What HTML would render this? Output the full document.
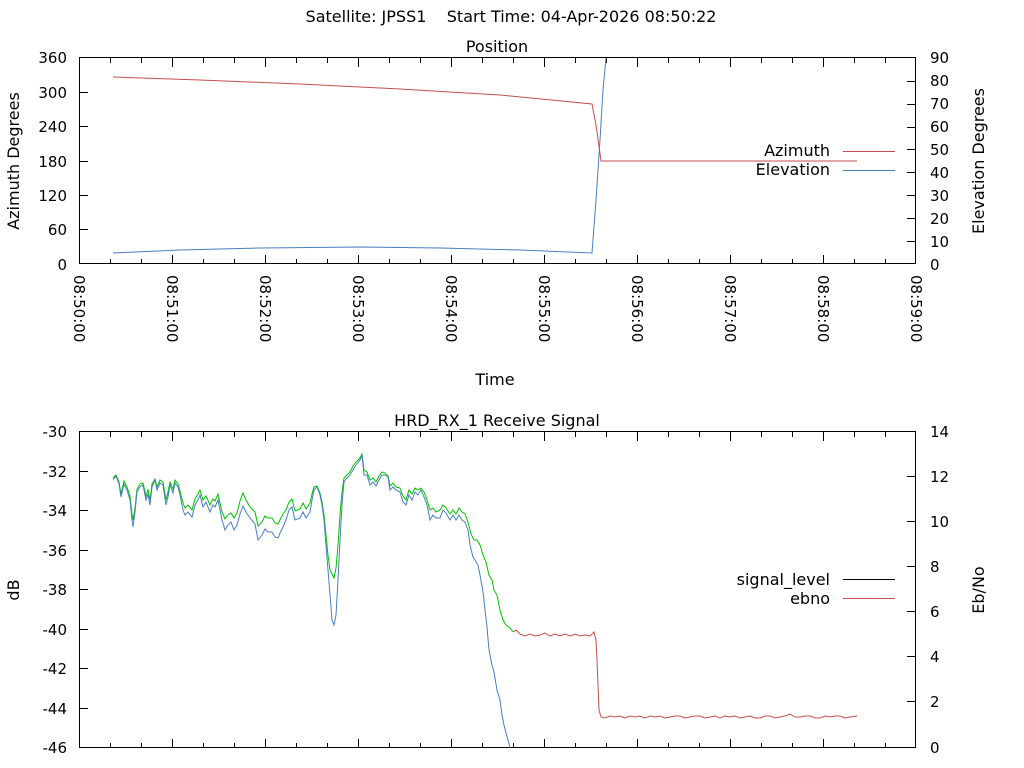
<!DOCTYPE html>
<html><head><meta charset="utf-8"><style>
html,body{margin:0;padding:0;background:#fff;}
svg{display:block;font-family:"DejaVu Sans","Liberation Sans",sans-serif;font-size:16px;fill:#000;}
.n{font-size:15px;}
</style></head><body>
<svg width="1024" height="768" viewBox="0 0 1024 768" xmlns="http://www.w3.org/2000/svg">
<text x="511" y="22" text-anchor="middle" xml:space="preserve">Satellite: JPSS1    Start Time: 04-Apr-2026 08:50:22</text>
<text x="497" y="52" text-anchor="middle">Position</text>
<rect x="79.5" y="57.5" width="836" height="206" fill="none" stroke="#000"/>
<rect x="79.5" y="431.5" width="836" height="316" fill="none" stroke="#000"/>
<g stroke="#000" stroke-width="1">
<path d="M80 92.5h8M80 126.5h8M80 161.5h8M80 195.5h8M80 229.5h8"/>
<path d="M915 81.5h-8M915 104.5h-8M915 127.5h-8M915 149.5h-8M915 172.5h-8M915 195.5h-8M915 218.5h-8M915 241.5h-8"/>
<path d="M172.5 264v-9M265.5 264v-9M358.5 264v-9M451.5 264v-9M544.5 264v-9M637.5 264v-9M730.5 264v-9M823.5 264v-9"/>
<path d="M172.5 58v9M265.5 58v9M358.5 58v9M451.5 58v9M544.5 58v9M637.5 58v9M730.5 58v9M823.5 58v9"/>
<path d="M110.5 264v-5M141.5 264v-5M203.5 264v-5M234.5 264v-5M296.5 264v-5M327.5 264v-5M389.5 264v-5M420.5 264v-5M482.5 264v-5M513.5 264v-5M575.5 264v-5M606.5 264v-5M668.5 264v-5M699.5 264v-5M761.5 264v-5M792.5 264v-5M854.5 264v-5M885.5 264v-5"/>
<path d="M110.5 58v5M141.5 58v5M203.5 58v5M234.5 58v5M296.5 58v5M327.5 58v5M389.5 58v5M420.5 58v5M482.5 58v5M513.5 58v5M575.5 58v5M606.5 58v5M668.5 58v5M699.5 58v5M761.5 58v5M792.5 58v5M854.5 58v5M885.5 58v5"/>
<path d="M80 471.5h8M80 510.5h8M80 550.5h8M80 589.5h8M80 629.5h8M80 668.5h8M80 708.5h8"/>
<path d="M915 476.5h-8M915 521.5h-8M915 566.5h-8M915 611.5h-8M915 656.5h-8M915 701.5h-8"/>
<path d="M172.5 748v-9M265.5 748v-9M358.5 748v-9M451.5 748v-9M544.5 748v-9M637.5 748v-9M730.5 748v-9M823.5 748v-9"/>
<path d="M110.5 748v-5M141.5 748v-5M203.5 748v-5M234.5 748v-5M296.5 748v-5M327.5 748v-5M389.5 748v-5M420.5 748v-5M482.5 748v-5M513.5 748v-5M575.5 748v-5M606.5 748v-5M668.5 748v-5M699.5 748v-5M761.5 748v-5M792.5 748v-5M854.5 748v-5M885.5 748v-5"/>
<path d="M172.5 432v9M265.5 432v9M358.5 432v9M451.5 432v9M544.5 432v9M637.5 432v9M730.5 432v9M823.5 432v9"/>
<path d="M110.5 432v5M141.5 432v5M203.5 432v5M234.5 432v5M296.5 432v5M327.5 432v5M389.5 432v5M420.5 432v5M482.5 432v5M513.5 432v5M575.5 432v5M606.5 432v5M668.5 432v5M699.5 432v5M761.5 432v5M792.5 432v5M854.5 432v5M885.5 432v5"/>
</g>
<g text-anchor="end" class="n">
<text x="67" y="63">360</text><text x="67" y="98">300</text><text x="67" y="132">240</text><text x="67" y="167">180</text><text x="67" y="201">120</text><text x="67" y="235">60</text><text x="67" y="270">0</text>
<text x="67" y="437">-30</text><text x="67" y="477">-32</text><text x="67" y="516">-34</text><text x="67" y="556">-36</text><text x="67" y="595">-38</text><text x="67" y="635">-40</text><text x="67" y="674">-42</text><text x="67" y="714">-44</text><text x="67" y="753">-46</text>
</g>
<g text-anchor="start" class="n">
<text x="930" y="63">90</text><text x="930" y="86">80</text><text x="930" y="109">70</text><text x="930" y="132">60</text><text x="930" y="155">50</text><text x="930" y="178">40</text><text x="930" y="201">30</text><text x="930" y="224">20</text><text x="930" y="247">10</text><text x="930" y="270">0</text>
<text x="930" y="437">14</text><text x="930" y="482">12</text><text x="930" y="527">10</text><text x="930" y="572">8</text><text x="930" y="617">6</text><text x="930" y="662">4</text><text x="930" y="707">2</text><text x="930" y="753">0</text>
</g>
<g class="n">
<text transform="translate(74,275) rotate(90)">08:50:00</text>
<text transform="translate(167,275) rotate(90)">08:51:00</text>
<text transform="translate(260,275) rotate(90)">08:52:00</text>
<text transform="translate(353,275) rotate(90)">08:53:00</text>
<text transform="translate(446,275) rotate(90)">08:54:00</text>
<text transform="translate(539,275) rotate(90)">08:55:00</text>
<text transform="translate(632,275) rotate(90)">08:56:00</text>
<text transform="translate(725,275) rotate(90)">08:57:00</text>
<text transform="translate(818,275) rotate(90)">08:58:00</text>
<text transform="translate(911,275) rotate(90)">08:59:00</text>
</g>
<text x="495" y="385" text-anchor="middle">Time</text>
<text transform="translate(19,161) rotate(-90)" text-anchor="middle">Azimuth Degrees</text>
<text transform="translate(984,161) rotate(-90)" text-anchor="middle">Elevation Degrees</text>
<text transform="translate(19,590) rotate(-90)" text-anchor="middle">dB</text>
<text transform="translate(984,590) rotate(-90)" text-anchor="middle">Eb/No</text>
<text x="497" y="426" text-anchor="middle">HRD_RX_1 Receive Signal</text>
<text x="830" y="156" text-anchor="end">Azimuth</text>
<line x1="843" y1="151.5" x2="895" y2="151.5" stroke="#c0504d"/>
<text x="830" y="175" text-anchor="end">Elevation</text>
<line x1="843" y1="170.5" x2="895" y2="170.5" stroke="#4a7ebb"/>
<text x="830" y="585" text-anchor="end">signal_level</text>
<line x1="843" y1="579.5" x2="895" y2="579.5" stroke="#000"/>
<text x="830" y="604" text-anchor="end">ebno</text>
<line x1="843" y1="598.5" x2="895" y2="598.5" stroke="#c0504d"/>
<polyline fill="none" stroke="#c0504d" stroke-width="1" points="113,77 200,80 300,84 400,89 500,95 592,104 596,125 601,161 857,161"/>
<polyline fill="none" stroke="#4a7ebb" stroke-width="1" points="113,253 180,250 260,248 360,247 440,248 520,250 592,253 596,200 600,140 603,90 606,58"/>
<polyline fill="none" stroke="#00c000" stroke-width="1" points="113,478 116,475 119,482 121,494 124,481 127,487 130,496 132,514 133,520 135,508 137,489 140,484 143,483 146,496 148,490 150,500 152,484 155,479 157,487 160,480 163,482 166,500 168,492 170,482 173,489 175,480 178,484 180,491 183,503 185,508 188,505 192,510 195,499 198,494 200,490 203,500 206,496 210,505 213,499 215,501 218,494 220,503 222,512 225,519 228,515 231,513 234,518 237,513 240,501 243,493 246,500 250,507 255,512 258,526 262,522 265,516 268,518 272,518 275,523 278,524 280,520 283,514 286,510 289,502 292,499 295,511 300,509 303,503 306,509 310,503 312,494 314,487 317,486 320,493 322,502 324,515 326,535 328,555 330,570 332,574 334,578 336,568 338,545 340,515 342,492 344,478 347,475 350,472 353,466 356,462 360,458 362,454 364,470 367,472 370,480 373,478 376,482 379,476 382,472 385,473 388,476 390,486 393,483 396,487 400,488 403,496 406,500 409,490 412,494 415,488 418,490 421,488 424,492 427,500 430,510 433,508 436,512 440,510 443,505 446,508 450,514 453,510 456,514 459,508 462,512 465,514 468,522 471,534 474,540 477,540 480,545 483,555 486,562 489,575 492,580 494,590 497,595 500,610 503,620 506,625 510,628 513,632"/>
<polyline fill="none" stroke="#4a7ebb" stroke-width="1" points="113,480 116,476 119,484 121,497 124,484 127,490 130,500 132,520 133,527 135,512 137,492 140,487 143,485 146,500 148,494 150,505 152,487 155,480 157,490 160,483 163,485 166,505 168,497 170,485 173,493 175,483 178,487 180,495 183,510 185,515 188,512 192,517 195,505 198,500 200,495 203,507 206,502 210,512 213,505 215,507 218,500 220,510 222,520 225,530 228,525 231,522 234,530 237,525 240,514 243,506 246,512 250,518 255,524 258,540 262,535 265,529 268,532 272,532 275,537 278,538 280,533 283,527 286,520 289,510 292,507 295,520 300,518 303,512 306,518 310,512 312,500 314,490 317,487 320,495 322,505 324,520 326,545 328,570 330,595 332,620 334,625 336,615 338,580 340,540 342,505 344,482 347,478 350,475 353,470 356,465 360,460 362,455 364,475 367,475 370,485 373,482 376,486 379,480 382,475 385,475 388,477 390,490 393,487 396,490 400,492 403,502 406,505 409,495 412,500 415,492 418,495 421,490 424,497 427,505 430,520 433,515 436,518 440,518 443,510 446,513 450,520 453,515 456,520 459,515 462,520 465,522 468,530 470,545 473,557 475,560 478,565 480,575 483,592 485,610 487,627 489,650 492,665 494,672 497,690 500,700 502,715 504,725 506,733 508,740 510,748"/>
<polyline fill="none" stroke="#c0504d" stroke-width="1" points="513,632 516,630 520,634 525,636 530,634 535,636 540,635 545,633 550,636 555,634 560,636 565,634 570,636 575,634 580,636 585,635 590,636 594,632 596,640 597,660 598,685 599,710 601,717 605,718 610,716 615,717 620,716 625,718 630,716 635,717 640,716 645,718 650,716 655,717 660,716 665,718 670,717 675,716 680,716 685,718 690,717 695,716 700,716 705,718 710,717 715,716 720,718 725,716 730,717 735,716 740,718 745,717 750,716 755,718 760,718 765,716 770,716 775,718 780,717 785,716 790,714 795,717 800,717 805,716 810,716 815,718 820,718 825,716 830,717 835,716 840,716 845,718 850,717 857,716"/>
</svg>
</body></html>
